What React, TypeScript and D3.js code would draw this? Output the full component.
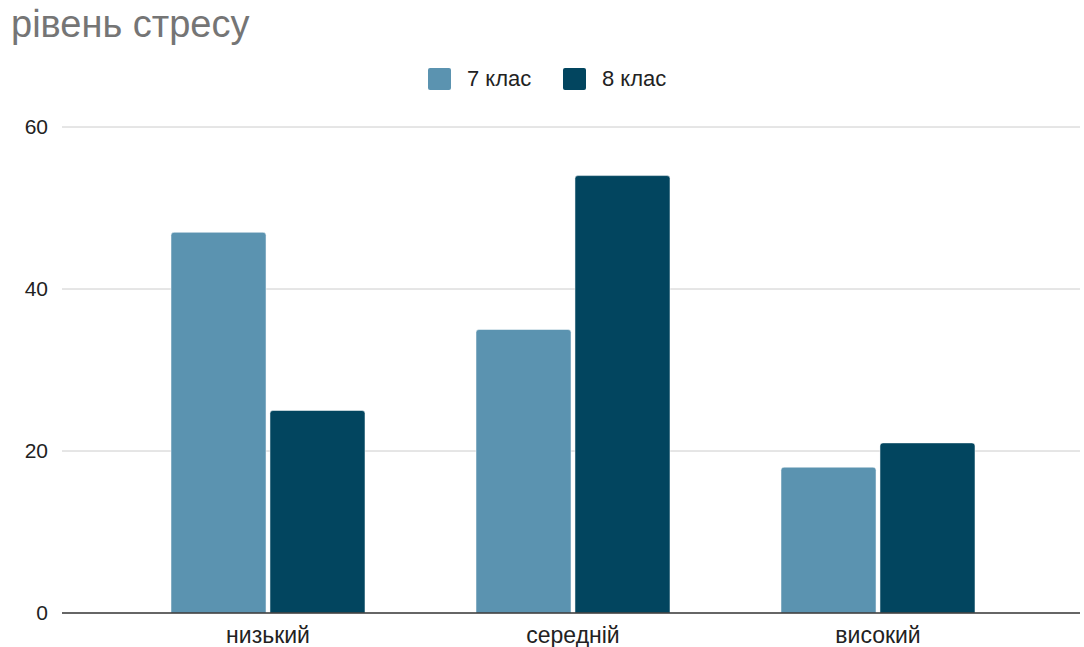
import React from "react";
import * as d3 from "d3";

const categories = ["низький", "середній", "високий"];
const seriesNames = ["7 клас", "8 клас"];
const values7 = [47, 35, 18];
const values8 = [25, 54, 21];
const yTicks = [0, 20, 40, 60];
const colors = ["#5b93b0", "#02455f"];

const W = 1084;
const H = 647;

function topRoundedRect(x: number, y: number, w: number, h: number, r: number) {
  const rr = Math.min(r, h, w / 2);
  return `M${x},${y + h}V${y + rr}Q${x},${y} ${x + rr},${y}H${x + w - rr}Q${x + w},${y} ${x + w},${y + rr}V${y + h}Z`;
}

export default function App() {
  const y = d3.scaleLinear().domain([0, 60]).range([613, 127]);
  const x0 = d3.scaleBand<string>().domain(categories).range([115.5, 1030.5]).paddingInner(0.364).paddingOuter(0.182);
  const x1 = d3.scaleBand<string>().domain(seriesNames).range([0, x0.bandwidth()]).paddingInner(0.04);
  const series = [values7, values8];
  const font = "'Liberation Sans', Arial, sans-serif";
  return (
    <svg width={W} height={H} style={{ position: "absolute", left: 0, top: 0, background: "#fff" }} fontFamily={font}>
      <rect x={0} y={0} width={W} height={H} fill="#fff" />
      <text x={11} y={37} fontSize={38} fill="#757575">рівень стресу</text>
      {seriesNames.map((s, i) => {
        const lx = [428, 563][i];
        return (
          <g key={s}>
            <rect x={lx} y={68} width={23} height={22} rx={2} fill={colors[i]} />
            <text x={lx + 39} y={86} fontSize={22} fill="#222">{s}</text>
          </g>
        );
      })}
      {yTicks.map((t) => (
        <g key={t}>
          {t !== 0 && <line x1={62} x2={1080} y1={y(t)} y2={y(t)} stroke="#cccccc" strokeWidth={1} />}
          <text x={48} y={y(t) + 7} fontSize={21} fill="#222" textAnchor="end">{t}</text>
        </g>
      ))}
      {categories.map((c, ci) => (
        <g key={c}>
          {seriesNames.map((s, si) => {
            const v = series[si][ci];
            const bx = (x0(c) as number) + (x1(s) as number);
            return (
              <path key={s} d={topRoundedRect(bx, y(v), x1.bandwidth(), y(0) - y(v), 3)} fill={colors[si]} stroke="#fff" strokeWidth={0.5} />
            );
          })}
          <text x={(x0(c) as number) + x0.bandwidth() / 2} y={643} fontSize={23} fill="#222" textAnchor="middle">{c}</text>
        </g>
      ))}
      <line x1={62} x2={1080} y1={613} y2={613} stroke="#333" strokeWidth={1.5} />
    </svg>
  );
}
